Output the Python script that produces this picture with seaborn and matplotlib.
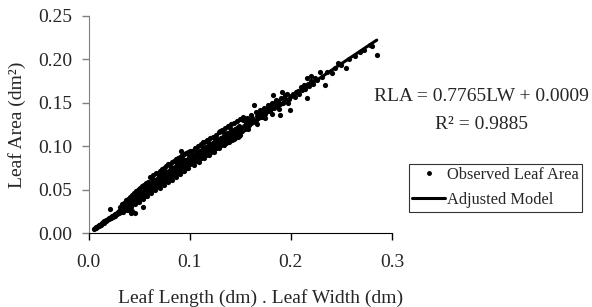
import matplotlib
matplotlib.use("Agg")
import matplotlib.pyplot as plt
import seaborn as sns
import pandas as pd
from matplotlib.lines import Line2D

# observed leaf area (LW product in dm2, area in dm2)
lw = [
    0.005, 0.006, 0.007, 0.007, 0.008, 0.009, 0.010, 0.010, 0.011, 0.012,
    0.012, 0.013, 0.014, 0.015, 0.015, 0.016, 0.017, 0.017, 0.018, 0.019,
    0.020, 0.020, 0.021, 0.022, 0.022, 0.023, 0.024, 0.024, 0.025, 0.026,
    0.026, 0.027, 0.028, 0.028, 0.029, 0.030, 0.030, 0.021,
    0.031, 0.032, 0.032, 0.033, 0.034, 0.034, 0.035, 0.035, 0.036, 0.036,
    0.037, 0.038, 0.038, 0.039, 0.039, 0.040, 0.040, 0.041, 0.041, 0.042,
    0.042, 0.043, 0.043, 0.044, 0.044, 0.045, 0.045, 0.046, 0.046, 0.047,
    0.047, 0.048, 0.048, 0.049, 0.049, 0.050, 0.050, 0.051, 0.052, 0.052,
    0.053, 0.053, 0.054, 0.055, 0.055, 0.056, 0.057, 0.057, 0.058, 0.059,
    0.059, 0.060, 0.060, 0.0416, 0.0455, 0.0535, 0.040, 0.043,
    0.031, 0.033, 0.035, 0.037, 0.039, 0.041, 0.043, 0.045, 0.047, 0.049,
    0.051, 0.053, 0.055, 0.057, 0.059, 0.034, 0.038, 0.042, 0.046, 0.050,
    0.054, 0.058,
    0.061, 0.061, 0.062, 0.062, 0.063, 0.063, 0.064, 0.064, 0.065, 0.065,
    0.066, 0.066, 0.067, 0.067, 0.068, 0.068, 0.069, 0.069, 0.070, 0.070,
    0.071, 0.071, 0.072, 0.072, 0.073, 0.073, 0.074, 0.075, 0.075, 0.076,
    0.076, 0.077, 0.077, 0.078, 0.079, 0.079, 0.080, 0.080, 0.081, 0.082,
    0.082, 0.083, 0.084, 0.084, 0.085, 0.086, 0.086, 0.087, 0.088, 0.088,
    0.089, 0.090, 0.090, 0.091, 0.091, 0.092, 0.093, 0.093, 0.094, 0.095,
    0.096, 0.096, 0.097, 0.098, 0.098, 0.099, 0.100, 0.100, 0.088,
    0.061, 0.064, 0.067, 0.070, 0.072, 0.074, 0.076, 0.078, 0.080, 0.082,
    0.084, 0.086, 0.088, 0.090, 0.092, 0.094, 0.096, 0.098, 0.100,
    0.062, 0.066, 0.070, 0.074, 0.078, 0.082, 0.086, 0.090, 0.094, 0.098,
    0.101, 0.102, 0.102, 0.103, 0.104, 0.104, 0.105, 0.106, 0.106, 0.107,
    0.108, 0.108, 0.109, 0.110, 0.110, 0.111, 0.112, 0.112, 0.113, 0.113,
    0.114, 0.115, 0.115, 0.116, 0.117, 0.118, 0.118, 0.119, 0.120, 0.120,
    0.121, 0.122, 0.123, 0.124, 0.124, 0.125, 0.126, 0.127, 0.128, 0.128,
    0.129, 0.130, 0.130, 0.131, 0.132, 0.133, 0.134, 0.135, 0.136, 0.137,
    0.138, 0.139, 0.140, 0.141, 0.142, 0.143, 0.144, 0.145, 0.146, 0.147,
    0.148, 0.149, 0.150, 0.150,
    0.102, 0.105, 0.108, 0.111, 0.114, 0.117, 0.120, 0.123, 0.126, 0.129,
    0.132, 0.135, 0.138, 0.141, 0.144, 0.147, 0.150,
    0.104, 0.109, 0.114, 0.119, 0.124, 0.129, 0.134, 0.139, 0.144, 0.149,
    0.032, 0.036, 0.040, 0.044, 0.048, 0.052, 0.056, 0.058, 0.062, 0.065,
    0.068, 0.071, 0.074, 0.077, 0.079, 0.081, 0.083, 0.085, 0.087, 0.089,
    0.091, 0.093, 0.095, 0.097, 0.099, 0.101, 0.103, 0.105, 0.107, 0.109,
    0.111, 0.113, 0.115, 0.117, 0.119, 0.121, 0.123, 0.125, 0.127, 0.129,
    0.131, 0.133, 0.135, 0.137, 0.139, 0.141, 0.143, 0.145, 0.147, 0.149,
    0.046, 0.051, 0.056, 0.061, 0.065, 0.069, 0.073, 0.077, 0.081, 0.085,
    0.089, 0.093, 0.097, 0.103, 0.107, 0.111, 0.116, 0.121, 0.126, 0.131,
    0.136, 0.141, 0.146,
    0.045, 0.050, 0.055, 0.063, 0.069, 0.075, 0.081, 0.087, 0.093, 0.099,
    0.106, 0.112, 0.118, 0.125, 0.133, 0.140,
    0.151, 0.152, 0.153, 0.154, 0.155, 0.156, 0.157, 0.158, 0.159, 0.160,
    0.161, 0.162, 0.163, 0.164, 0.165, 0.166, 0.167, 0.168, 0.169, 0.170,
    0.171, 0.172, 0.174, 0.175, 0.176, 0.178, 0.179, 0.180, 0.182, 0.183,
    0.184, 0.186, 0.187, 0.189, 0.189, 0.190, 0.191, 0.192, 0.193, 0.195,
    0.196, 0.198, 0.199, 0.200,
    0.153, 0.157, 0.161, 0.165, 0.169, 0.173, 0.177, 0.181, 0.185, 0.194,
    0.158, 0.166, 0.174, 0.181, 0.188, 0.197,
    0.202, 0.204, 0.205, 0.207, 0.208, 0.210, 0.211, 0.213, 0.214, 0.216,
    0.217, 0.218, 0.220, 0.222, 0.224, 0.226, 0.229, 0.231, 0.234, 0.236,
    0.241, 0.244, 0.247, 0.250, 0.255, 0.258, 0.263, 0.268, 0.272, 0.278,
    0.280, 0.285, 0.216, 0.220,
]
area = [
    0.0049, 0.0060, 0.0062, 0.0068, 0.0072, 0.0085, 0.0083, 0.0095, 0.0096, 0.0108,
    0.0097, 0.0112, 0.0125, 0.0121, 0.0133, 0.0140, 0.0138, 0.0149, 0.0152, 0.0160,
    0.0158, 0.0172, 0.0175, 0.0170, 0.0186, 0.0192, 0.0185, 0.0200, 0.0207, 0.0198,
    0.0215, 0.0222, 0.0215, 0.0232, 0.0240, 0.0228, 0.0248, 0.0277,
    0.0250, 0.0262, 0.0245, 0.0270, 0.0268, 0.0285, 0.0278, 0.0295, 0.0283, 0.0302,
    0.0296, 0.0310, 0.0292, 0.0318, 0.0335, 0.0315, 0.0330, 0.0342, 0.0322, 0.0348,
    0.0365, 0.0340, 0.0357, 0.0372, 0.0350, 0.0385, 0.0362, 0.0378, 0.0400, 0.0368,
    0.0392, 0.0410, 0.0383, 0.0398, 0.0425, 0.0405, 0.0440, 0.0415, 0.0432, 0.0455,
    0.0420, 0.0465, 0.0448, 0.0470, 0.0438, 0.0485, 0.0460, 0.0500, 0.0478, 0.0515,
    0.0470, 0.0495, 0.0540, 0.0232, 0.0235, 0.0300, 0.0270, 0.0255,
    0.0300, 0.0330, 0.0350, 0.0375, 0.0395, 0.0410, 0.0440, 0.0455, 0.0480, 0.0500,
    0.0515, 0.0540, 0.0555, 0.0580, 0.0590, 0.0242, 0.0270, 0.0300, 0.0330, 0.0362,
    0.0395, 0.0425,
    0.0520, 0.0485, 0.0555, 0.0500, 0.0535, 0.0580, 0.0510, 0.0560, 0.0600, 0.0530,
    0.0575, 0.0615, 0.0545, 0.0590, 0.0630, 0.0560, 0.0605, 0.0645, 0.0575, 0.0620,
    0.0660, 0.0590, 0.0640, 0.0605, 0.0675, 0.0620, 0.0650, 0.0690, 0.0610, 0.0665,
    0.0635, 0.0705, 0.0640, 0.0680, 0.0720, 0.0650, 0.0695, 0.0665, 0.0735, 0.0680,
    0.0710, 0.0750, 0.0690, 0.0725, 0.0765, 0.0705, 0.0740, 0.0780, 0.0720, 0.0755,
    0.0795, 0.0735, 0.0770, 0.0940, 0.0810, 0.0750, 0.0785, 0.0825, 0.0760, 0.0800,
    0.0840, 0.0775, 0.0815, 0.0855, 0.0790, 0.0830, 0.0870, 0.0800, 0.0840,
    0.0640, 0.0665, 0.0690, 0.0710, 0.0735, 0.0745, 0.0770, 0.0790, 0.0800, 0.0820,
    0.0835, 0.0850, 0.0860, 0.0880, 0.0895, 0.0905, 0.0920, 0.0935, 0.0950,
    0.0460, 0.0490, 0.0520, 0.0550, 0.0585, 0.0615, 0.0645, 0.0680, 0.0710, 0.0745,
    0.0845, 0.0885, 0.0815, 0.0860, 0.0900, 0.0825, 0.0875, 0.0915, 0.0840, 0.0890,
    0.0930, 0.0850, 0.0905, 0.0945, 0.0865, 0.0920, 0.0960, 0.0880, 0.1050, 0.0935,
    0.0975, 0.0900, 0.0950, 0.0990, 0.0915, 0.0965, 0.1005, 0.0930, 0.0980, 0.1020,
    0.0945, 0.0995, 0.1040, 0.0960, 0.1010, 0.1055, 0.0980, 0.1030, 0.1075, 0.0995,
    0.1045, 0.1170, 0.1010, 0.1090, 0.1060, 0.1025, 0.1105, 0.1075, 0.1040, 0.1150,
    0.1095, 0.1060, 0.1130, 0.1110, 0.1075, 0.1160, 0.1125, 0.1095, 0.1185, 0.1140,
    0.1110, 0.1200, 0.1160, 0.1125,
    0.0950, 0.0980, 0.1000, 0.1025, 0.1050, 0.1075, 0.1090, 0.1110, 0.1130, 0.1160,
    0.1190, 0.1210, 0.1230, 0.1250, 0.1270, 0.1290, 0.1310,
    0.0780, 0.0820, 0.0860, 0.0900, 0.0935, 0.0975, 0.1010, 0.1050, 0.1085, 0.1120,
    0.0300, 0.0335, 0.0372, 0.0395, 0.0440, 0.0470, 0.0505, 0.0530, 0.0560, 0.0575,
    0.0605, 0.0630, 0.0650, 0.0675, 0.0700, 0.0705, 0.0725, 0.0745, 0.0755, 0.0770,
    0.0790, 0.0800, 0.0820, 0.0835, 0.0855, 0.0870, 0.0880, 0.0900, 0.0915, 0.0925,
    0.0945, 0.0955, 0.0975, 0.0990, 0.1000, 0.1020, 0.1035, 0.1050, 0.1060, 0.1080,
    0.1095, 0.1105, 0.1125, 0.1135, 0.1155, 0.1170, 0.1180, 0.1200, 0.1215, 0.1230,
    0.0352, 0.0395, 0.0430, 0.0470, 0.0505, 0.0535, 0.0565, 0.0595, 0.0628, 0.0655,
    0.0690, 0.0720, 0.0752, 0.0795, 0.0830, 0.0860, 0.0895, 0.0935, 0.0975, 0.1012,
    0.1050, 0.1090, 0.1130,
    0.0460, 0.0510, 0.0550, 0.0620, 0.0670, 0.0710, 0.0760, 0.0805, 0.0850, 0.0895,
    0.0955, 0.1000, 0.1045, 0.1100, 0.1160, 0.1215,
    0.1215, 0.1180, 0.1340, 0.1235, 0.1200, 0.1265, 0.1225, 0.1290, 0.1240, 0.1310,
    0.1265, 0.1330, 0.1280, 0.1480, 0.1300, 0.1350, 0.1320, 0.1395, 0.1335, 0.1370,
    0.1340, 0.1410, 0.1375, 0.1430, 0.1400, 0.1445, 0.1410, 0.1470, 0.1590, 0.1440,
    0.1500, 0.1460, 0.1520, 0.1360, 0.1490, 0.1555, 0.1620, 0.1500, 0.1560, 0.1530,
    0.1600, 0.1545, 0.1420, 0.1580,
    0.1300, 0.1330, 0.1360, 0.1390, 0.1420, 0.1440, 0.1470, 0.1500, 0.1530, 0.1590,
    0.1200, 0.1260, 0.1320, 0.1370, 0.1430, 0.1500,
    0.1600, 0.1570, 0.1625, 0.1640, 0.1600, 0.1680, 0.1650, 0.1700, 0.1660, 0.1560,
    0.1720, 0.1690, 0.1750, 0.1720, 0.1780, 0.1760, 0.1850, 0.1800, 0.1700, 0.1850,
    0.1840, 0.1900, 0.1960, 0.1940, 0.1900, 0.2010, 0.2040, 0.2090, 0.2110, 0.2170,
    0.2150, 0.2050, 0.1780, 0.1810,
]

# adjusted model RLA = a*LW + b
slope = 0.7765
intercept = 0.0009
model_x = [0.005, 0.285]

x_ticks = [0.0, 0.1, 0.2, 0.3]
y_ticks = [0.00, 0.05, 0.10, 0.15, 0.20, 0.25]

sns.set_style("white")
plt.rcParams['font.family'] = ['Liberation Serif', 'DejaVu Serif']

df = pd.DataFrame({'lw': lw, 'area': area})
model = pd.DataFrame({'lw': model_x, 'area': [slope * v + intercept for v in model_x]})

fig = plt.figure(figsize=(5.92, 3.07), dpi=100)
ax = fig.add_axes([0.150, 0.241, 0.512, 0.707])

sns.scatterplot(data=df, x='lw', y='area', ax=ax, color='black', s=14,
                marker='o', linewidth=0, legend=False)
sns.lineplot(data=model, x='lw', y='area', ax=ax, color='black', linewidth=2.2,
             legend=False)

ax.set_xlim(0, 0.3)
ax.set_ylim(0, 0.25)
ax.set_xticks(x_ticks)
ax.set_xticklabels([f"{v:.1f}" for v in x_ticks])
ax.set_yticks(y_ticks)
ax.set_yticklabels([f"{v:.2f}" for v in y_ticks])

for s in ['top', 'right']:
    ax.spines[s].set_visible(False)
ax.spines['left'].set_color('#808080')
ax.spines['bottom'].set_color('black')
ax.tick_params(axis='y', direction='out', length=5, width=1, color='#808080',
               labelsize=14, pad=7, left=True)
ax.tick_params(axis='x', direction='out', length=5, width=1, color='black',
               labelsize=14, pad=10, bottom=True)

ax.set_xlabel('Leaf Length (dm) . Leaf Width (dm)', fontsize=14, labelpad=13,
              x=0.568)
ax.set_ylabel('Leaf Area (dm²)', fontsize=14, labelpad=9)

fig.text(0.813, 0.687, 'RLA = 0.7765LW + 0.0009', ha='center', va='center', fontsize=14)
fig.text(0.813, 0.596, 'R² = 0.9885', ha='center', va='center', fontsize=14)

handles = [
    Line2D([], [], color='black', marker='o', markersize=2.5, linestyle='none'),
    Line2D([], [], color='black', linewidth=2.2),
]
leg = fig.legend(handles, ['Observed Leaf Area', 'Adjusted Model'],
                 loc='upper left', bbox_to_anchor=(0.691, 0.466),
                 frameon=True, fancybox=False, fontsize=11.8, handlelength=2.0,
                 handletextpad=0.1, borderpad=0.2, labelspacing=0.55,
                 borderaxespad=0)
leg.get_frame().set_edgecolor('black')
leg.get_frame().set_linewidth(0.8)

fig.savefig('out.png', dpi=100)
